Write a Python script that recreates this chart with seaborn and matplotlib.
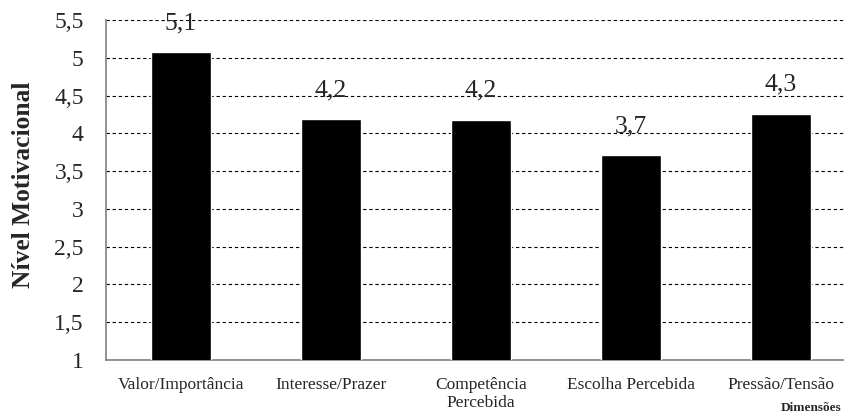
import matplotlib
matplotlib.use("Agg")
import matplotlib.pyplot as plt
import seaborn as sns
import pandas as pd
from matplotlib.ticker import FixedLocator

categories = ["Valor/Importância", "Interesse/Prazer", "Competência\nPercebida",
              "Escolha Percebida", "Pressão/Tensão"]
values = [5.07, 4.19, 4.18, 3.71, 4.26]
labels = ["5,1", "4,2", "4,2", "3,7", "4,3"]
yticks = [1, 1.5, 2, 2.5, 3, 3.5, 4, 4.5, 5, 5.5]
ytick_labels = ["1", "1,5", "2", "2,5", "3", "3,5", "4", "4,5", "5", "5,5"]

sns.set_style("white")
plt.rcParams['font.family'] = ['Liberation Serif', 'DejaVu Serif']

df = pd.DataFrame({"cat": categories, "val": values})

fig = plt.figure(figsize=(8.44, 4.16), dpi=100)
ax = fig.add_axes([106/844, 1-360/416, 750/844, 340/416])

sns.barplot(data=df, x="cat", y="val", color="black", width=0.4,
            saturation=1, ax=ax, zorder=3)

ax.set_ylim(1, 5.5)
ax.set_xlim(-0.5, 4.5)
ax.set_yticks(yticks)
ax.set_yticklabels(ytick_labels, fontsize=17)
ax.yaxis.grid(True, linestyle=(0, (3, 2.5)), color="black", linewidth=0.8, zorder=0)
ax.set_axisbelow(True)

ax.xaxis.set_minor_locator(FixedLocator([-0.5, 0.5, 1.5, 2.5, 3.5, 4.5]))
ax.tick_params(axis="x", which="major", length=0, pad=12, labelsize=12.5)
ax.tick_params(axis="x", which="minor", length=5, color="#808080", width=1, direction="out")
ax.tick_params(axis="y", length=7, color="#808080", width=1, direction="out", pad=9)

for s in ["top", "right"]:
    ax.spines[s].set_visible(False)
for s in ["left", "bottom"]:
    ax.spines[s].set_color("#808080")
    ax.spines[s].set_linewidth(1.2)

for i, (v, lab) in enumerate(zip(values, labels)):
    ax.annotate(lab, (i, v), xytext=(0, 16.5), textcoords="offset points",
                ha="center", va="baseline", fontsize=18.5, zorder=5)

ax.set_xlabel("")
ax.set_ylabel("")
fig.text(24/844, 1-185/416, "Nível Motivacional", fontsize=18.4, fontweight="bold",
         rotation=90, ha="center", va="center")

fig.text(841/844, 1-408/416, "Dimensões", fontsize=9.5, fontweight="bold",
         ha="right", va="center")

fig.savefig("out.png", dpi=100)
